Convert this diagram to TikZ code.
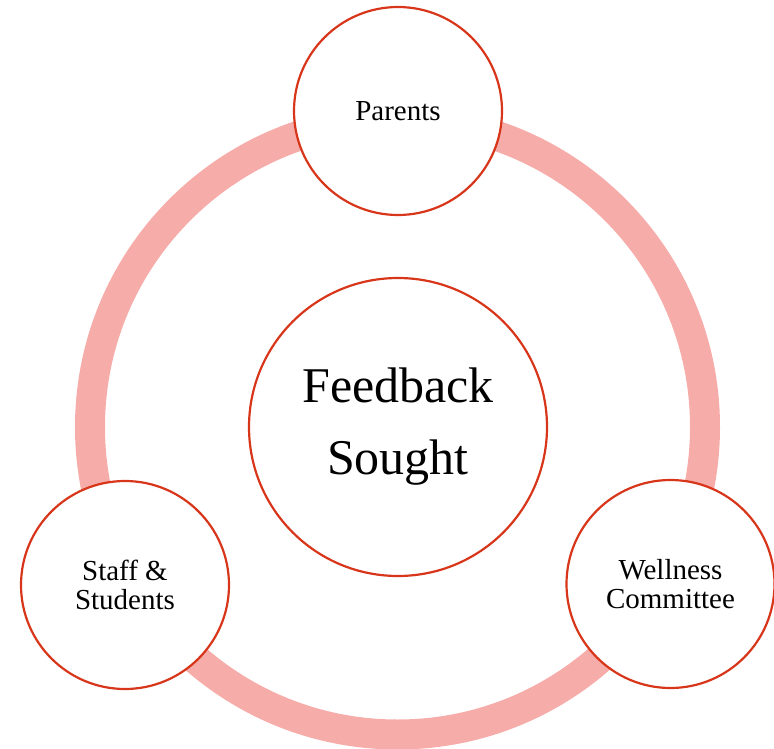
\documentclass[tikz,border=0pt]{standalone}
\usepackage{fontspec}
\setmainfont{Liberation Serif}
\definecolor{ringpink}{RGB}{246,172,169}
\definecolor{edgered}{RGB}{216,54,26}
\tikzset{
  bubble/.style={circle, draw=edgered, line width=2.2pt, fill=white, inner sep=0pt, align=center, text=black},
  small/.style={bubble, minimum size=208pt, font=\fontsize{29}{29}\selectfont},
  big/.style={bubble, minimum size=298pt, font=\fontsize{50}{72}\selectfont}
}
\begin{document}
\begin{tikzpicture}[x=1pt,y=-1pt]
\useasboundingbox (0,0) rectangle (774,749);
\coordinate (ringc) at (397.5,427);
\draw[ringpink, line width=30pt] (ringc) circle[radius=307.5];
\node[big] (center) at (398,427) {Feedback\\Sought};
\node[small] (parents) at (398,111) {Parents};
\node[small] (staff) at (125,585) {Staff \&\\Students};
\node[small] (wellness) at (670.5,584) {Wellness\\Committee};
\end{tikzpicture}
\end{document}
